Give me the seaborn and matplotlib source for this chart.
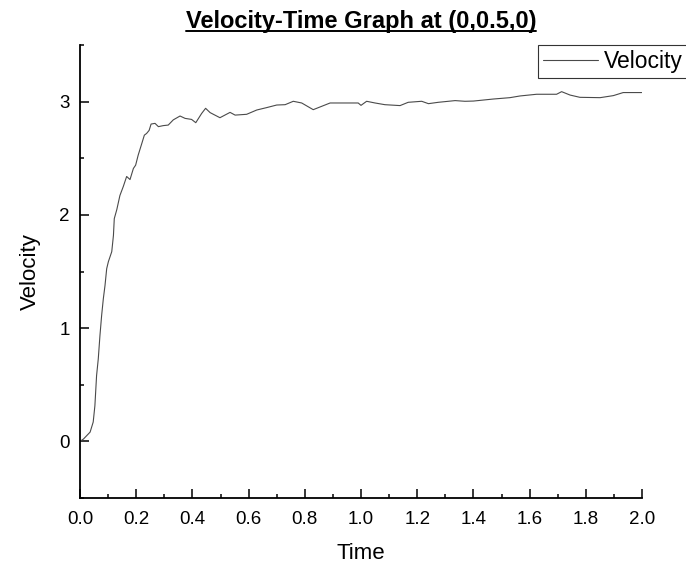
import matplotlib
matplotlib.use("Agg")
import matplotlib.pyplot as plt
from matplotlib.lines import Line2D
from matplotlib.ticker import MultipleLocator, FormatStrFormatter
import pandas as pd
import seaborn as sns

# Velocity samples at the probe point (0, 0.5, 0)
time = [0.000, 0.012, 0.036, 0.047, 0.053, 0.059, 0.065, 0.071, 0.077, 0.083,
        0.089, 0.095, 0.101, 0.113, 0.119, 0.122, 0.131, 0.142, 0.154, 0.166,
        0.178, 0.190, 0.198, 0.207, 0.220, 0.229, 0.237, 0.246, 0.253, 0.267,
        0.279, 0.296, 0.314, 0.332, 0.356, 0.374, 0.397, 0.412, 0.433, 0.447,
        0.463, 0.498, 0.534, 0.552, 0.593, 0.629, 0.664, 0.700, 0.730, 0.759,
        0.789, 0.830, 0.890, 0.990, 1.000, 1.020, 1.050, 1.085, 1.139, 1.168,
        1.216, 1.240, 1.275, 1.311, 1.335, 1.370, 1.400, 1.471, 1.530, 1.566,
        1.625, 1.696, 1.714, 1.744, 1.779, 1.851, 1.898, 1.933, 1.999]
velocity = [0.000, 0.020, 0.082, 0.171, 0.315, 0.581, 0.728, 0.935, 1.112, 1.259,
            1.377, 1.525, 1.587, 1.675, 1.819, 1.967, 2.047, 2.171, 2.250, 2.339,
            2.312, 2.410, 2.439, 2.527, 2.631, 2.704, 2.719, 2.746, 2.802, 2.808,
            2.779, 2.788, 2.793, 2.839, 2.873, 2.852, 2.843, 2.814, 2.896, 2.941,
            2.903, 2.858, 2.905, 2.881, 2.888, 2.926, 2.947, 2.970, 2.973, 3.003,
            2.988, 2.929, 2.988, 2.988, 2.967, 3.003, 2.988, 2.973, 2.965, 2.994,
            3.003, 2.982, 2.994, 3.003, 3.009, 3.003, 3.005, 3.023, 3.035, 3.050,
            3.065, 3.065, 3.088, 3.058, 3.038, 3.035, 3.053, 3.080, 3.080]

title_text = "Velocity-Time Graph at (0,0.5,0)"
x_label = "Time"
y_label = "Velocity"

df = pd.DataFrame({x_label: time, y_label: velocity})

sns.set_theme(style="ticks")
plt.rcParams["font.family"] = ["Liberation Sans", "DejaVu Sans"]
plt.rcParams["text.color"] = "black"
plt.rcParams["axes.labelcolor"] = "black"
plt.rcParams["xtick.color"] = "black"
plt.rcParams["ytick.color"] = "black"

W, H = 686, 568
fig = plt.figure(figsize=(W / 100, H / 100), dpi=100)
ax = fig.add_axes([80 / W, 1 - 498 / H, 562 / W, 453 / H])

sns.lineplot(data=df, x=x_label, y=y_label, ax=ax, color="#4a4a4a",
             linewidth=0.8, label="Velocity")

ax.set_xlim(0, 2)
ax.set_ylim(-0.5, 3.5)
ax.xaxis.set_major_locator(MultipleLocator(0.2))
ax.xaxis.set_minor_locator(MultipleLocator(0.1))
ax.xaxis.set_major_formatter(FormatStrFormatter("%.1f"))
ax.yaxis.set_major_locator(MultipleLocator(1))
ax.yaxis.set_minor_locator(MultipleLocator(0.5))

for side in ("top", "right"):
    ax.spines[side].set_visible(False)
for side in ("left", "bottom"):
    ax.spines[side].set_linewidth(1.3)
    ax.spines[side].set_color("black")

ax.tick_params(which="both", direction="in", width=1.1, colors="black",
               labelcolor="black")
ax.tick_params(which="major", length=6.5, labelsize=13.5)
ax.tick_params(which="minor", length=3.2)
ax.tick_params(axis="x", which="major", pad=9)
ax.tick_params(axis="y", which="major", pad=7.5)

ax.set_xlabel(x_label, fontsize=16, labelpad=11, color="black")
ax.set_ylabel(y_label, fontsize=16, labelpad=13, color="black")

title = ax.set_title(title_text, fontsize=17, fontweight="bold", pad=12,
                     color="black")

leg = ax.legend(loc="upper left", bbox_to_anchor=(538 / W, 1 - 45 / H),
                bbox_transform=fig.transFigure, frameon=True, fancybox=False,
                fontsize=16.5, handlelength=2.4, handletextpad=0.25,
                borderpad=0.22, borderaxespad=0)
leg.get_frame().set_edgecolor("#333333")
leg.get_frame().set_linewidth(0.8)
leg.get_frame().set_alpha(1)
for t in leg.get_texts():
    t.set_color("black")

# underline the title
fig.canvas.draw()
bb = title.get_window_extent(fig.canvas.get_renderer())
y_ul = (bb.y0 + 2) / H
fig.add_artist(Line2D([bb.x0 / W, bb.x1 / W], [y_ul, y_ul],
                      transform=fig.transFigure, color="black", linewidth=1.4))

fig.savefig("out.png", dpi=100)
